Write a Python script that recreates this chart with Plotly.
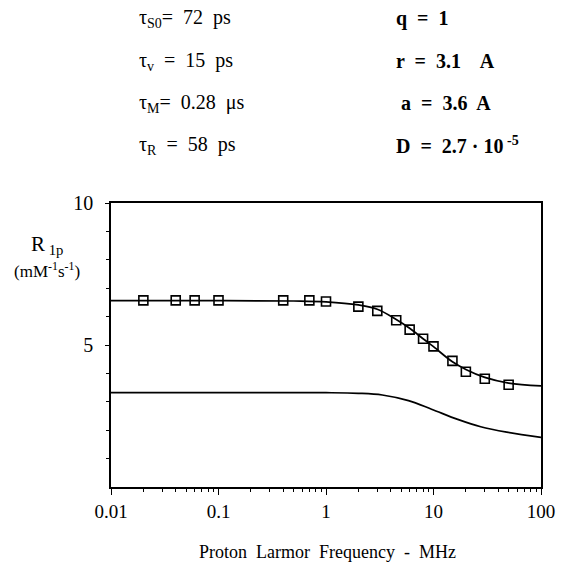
import plotly.graph_objects as go

# ---------------- data ----------------
freq_pts = [0.02, 0.04, 0.06, 0.1, 0.4, 0.7, 1, 2, 3, 4.5, 6, 8, 10, 15, 20, 30, 50]
r1p_pts = [6.57, 6.57, 6.57, 6.57, 6.57, 6.57, 6.53, 6.35, 6.20, 5.87, 5.54, 5.22, 4.95, 4.44, 4.06, 3.81, 3.60]

freq_fit = [0.01, 0.1, 0.5, 1, 2, 3, 4.5, 6, 8, 10, 15, 20, 30, 50, 100]
r1p_fit = [6.56, 6.56, 6.55, 6.52, 6.41, 6.26, 5.90, 5.59, 5.22, 4.94, 4.41, 4.14, 3.86, 3.66, 3.56]

freq_low = [0.01, 0.1, 1, 2, 3.34, 5.85, 9.58, 16.8, 27.5, 48, 100]
r1p_low = [3.32, 3.32, 3.32, 3.30, 3.24, 3.04, 2.74, 2.38, 2.12, 1.93, 1.75]

x_tickvals = [0.01, 0.1, 1, 10, 100]
x_ticktext = ["0.01", "0.1", "1", "10", "100"]
y_tickvals = [5, 10]
y_ticktext = ["5", "10"]

params_left = ["τ<sub>S0</sub>=  72  ps", "τ<sub>v</sub>  =  15  ps",
               "τ<sub>M</sub>=  0.28  μs", "τ<sub>R</sub>  =  58  ps"]
params_right = ["q  =  1", "r  =  3.1    A", " a  =  3.6  A", "D  =  2.7 · 10<sup> -5</sup>"]

FONT = "Liberation Serif, Times New Roman, serif"
W, H = 567, 566
L, R, T, B = 111, 548, 203, 487   # plot area in pixels


def px(x):
    return (x - L) / (R - L)


def py(y):
    return (B - y) / (B - T)


minor_x = [k * 10.0 ** e for e in range(-2, 2) for k in range(2, 10)]
minor_y = [v for v in range(1, 10) if v != 5]

fig = go.Figure()
fig.add_trace(go.Scatter(x=freq_fit, y=r1p_fit, mode="lines", line=dict(color="black", width=1.7, shape="spline"),
                         showlegend=False, hoverinfo="skip"))
fig.add_trace(go.Scatter(x=freq_low, y=r1p_low, mode="lines", line=dict(color="black", width=1.7, shape="spline"),
                         showlegend=False, hoverinfo="skip"))
fig.add_trace(go.Scatter(x=freq_pts, y=r1p_pts, mode="markers",
                         marker=dict(symbol="square-open", size=9, color="black", line=dict(width=1.6)),
                         showlegend=False))

fig.update_layout(
    width=W, height=H,
    margin=dict(l=L, r=W - R, t=T, b=H - B),
    paper_bgcolor="white", plot_bgcolor="white",
    font=dict(family=FONT, color="black", size=18),
    xaxis=dict(type="log", range=[-2, 2], showline=True, mirror=True, linecolor="black", linewidth=1.5,
               ticks="outside", ticklen=6, tickwidth=1, tickcolor="black",
               tickvals=x_tickvals, ticktext=x_ticktext, showgrid=False, zeroline=False,
               tickfont=dict(size=19, family=FONT),
               minor=dict(ticks="outside", ticklen=3, tickvals=minor_x, tickcolor="black", showgrid=False)),
    yaxis=dict(range=[0, 10], showline=True, mirror=True, linecolor="black", linewidth=1.5,
               ticks="outside", ticklen=4, tickwidth=1, tickcolor="black",
               tickvals=y_tickvals, ticktext=y_ticktext, showgrid=False, zeroline=False,
               tickfont=dict(size=20, family=FONT), ticklabelstandoff=8,
               minor=dict(ticks="outside", ticklen=3, tickvals=minor_y, tickcolor="black", showgrid=False)),
)

ann = []
rows_y = [18, 61, 103, 145]
for txt, yy in zip(params_left, rows_y):
    ann.append(dict(x=px(137), y=py(yy), xref="paper", yref="paper", text=txt, showarrow=False,
                    xanchor="left", yanchor="middle", font=dict(size=20, family=FONT)))
for txt, yy in zip(params_right, rows_y):
    ann.append(dict(x=px(399), y=py(yy), xref="paper", yref="paper", text="<b>" + txt + "</b>", showarrow=False,
                    xanchor="left", yanchor="middle", font=dict(size=20, family=FONT)))
ann.append(dict(x=px(46), y=py(245), xref="paper", yref="paper", text="R<sub> 1p</sub>", showarrow=False,
                xanchor="center", yanchor="middle", font=dict(size=21, family=FONT)))
ann.append(dict(x=px(46), y=py(270), xref="paper", yref="paper", text="(mM<sup>-1</sup>s<sup>-1</sup>)",
                showarrow=False, xanchor="center", yanchor="middle", font=dict(size=17, family=FONT)))
ann.append(dict(x=px(331), y=py(552), xref="paper", yref="paper", text="Proton  Larmor  Frequency  -  MHz",
                showarrow=False, xanchor="center", yanchor="middle", font=dict(size=18, family=FONT)))
fig.update_layout(annotations=ann)

fig.write_html("out.html")
